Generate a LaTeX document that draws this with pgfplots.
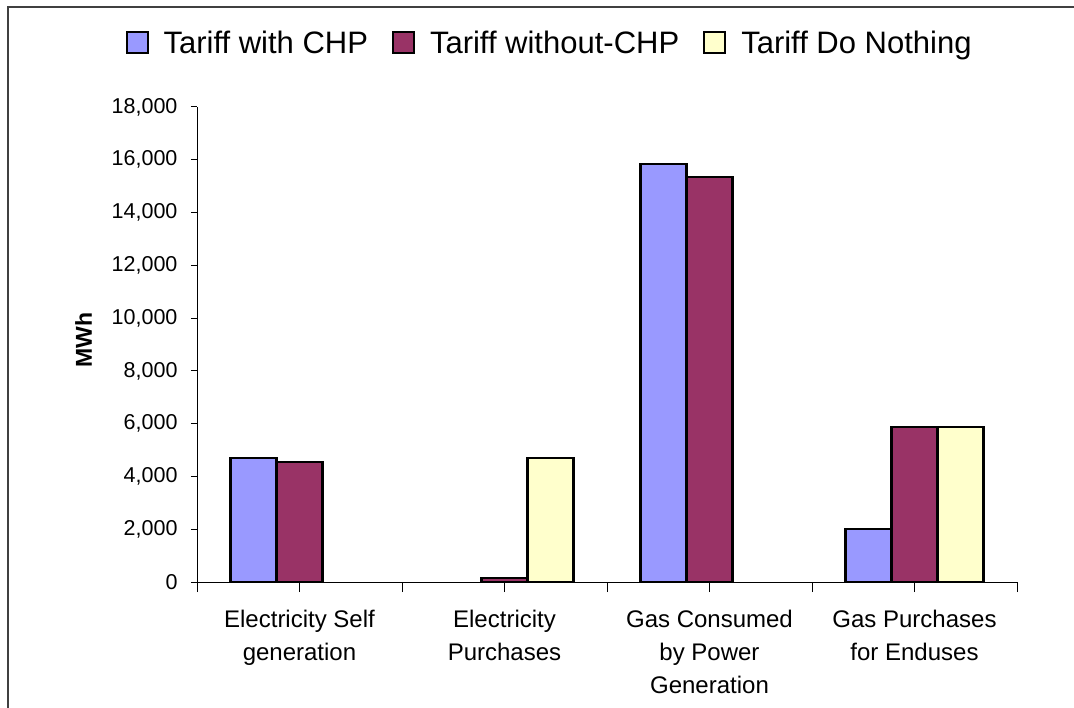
\documentclass[border=0pt]{standalone}
\usepackage{fontspec}
\setmainfont{Liberation Sans}
\usepackage{pgfplots}
\pgfplotsset{compat=1.18}
\definecolor{cBlue}{HTML}{9999FF}
\definecolor{cMaroon}{HTML}{993366}
\definecolor{cYellow}{HTML}{FFFFCC}
\definecolor{frameGray}{HTML}{404040}
\newcommand{\tl}[1]{\fontsize{21.5}{26}\selectfont #1}
\begin{document}
\begin{tikzpicture}[x=1pt,y=1pt]
\path[use as bounding box] (0,0) rectangle (1074,-708);
\draw[frameGray, line width=2pt] (7.5,-708) -- (7.5,-7) -- (1074,-7);
\begin{axis}[
  at={(197pt,-582pt)}, anchor=south west,
  scale only axis, width=820pt, height=475pt,
  xmin=-0.5, xmax=3.5, ymin=0, ymax=18000,
  axis x line*=bottom, axis y line*=left,
  axis line style={black, line width=1pt},
  tick align=outside,
  scaled y ticks=false,
  ytick={0,2000,...,18000},
  yticklabels={\tl{0},\tl{2,000},\tl{4,000},\tl{6,000},\tl{8,000},\tl{10,000},\tl{12,000},\tl{14,000},\tl{16,000},\tl{18,000}},
  ytick style={black, line width=1pt},
  major tick length=6pt,
  yticklabel style={xshift=-10pt},
  xtick={-0.5,0.5,1.5,2.5,3.5},
  xticklabels={},
  xtick style={black, line width=1pt, /pgfplots/major tick length=10pt},
  extra x ticks={0,1,2,3},
  extra x tick labels={Electricity Self\\generation, Electricity\\Purchases, Gas Consumed\\by Power\\Generation, Gas Purchases\\for Enduses},
  extra x tick style={major tick length=0pt, xticklabel style={align=center, font=\fontsize{24}{33}\selectfont, yshift=-25pt}},
  ylabel={\textbf{MWh}},
  ylabel style={font=\fontsize{23}{28}\selectfont, at={(axis description cs:-0.1385,0.509)}, anchor=center},
  ybar=0pt, bar width=0.2244,
  legend columns=3,
  legend style={draw=none, fill=none, at={(axis description cs:0.4300,1.1337)}, anchor=center,
    font=\fontsize{31}{37}\selectfont,
    /tikz/every odd column/.append style={column sep=13pt},
    /tikz/every even column/.append style={column sep=22pt}},
  legend image code/.code={\draw[#1, draw=black, line width=2pt] (0pt,-10pt) rectangle (21pt,11pt);},
]
\addplot[fill=cBlue, draw=black, line width=2.2pt, bar shift=-0.2244] coordinates {(0,4700) (2,15840) (3,2010)};
\addplot[fill=cMaroon, draw=black, line width=2.2pt, bar shift=0] coordinates {(0,4550) (1,150) (2,15350) (3,5870)};
\addplot[fill=cYellow, draw=black, line width=2.2pt, bar shift=0.2244] coordinates {(1,4700) (3,5870)};
\legend{Tariff with CHP, Tariff without-CHP, Tariff Do Nothing}
\end{axis}
\end{tikzpicture}
\end{document}
